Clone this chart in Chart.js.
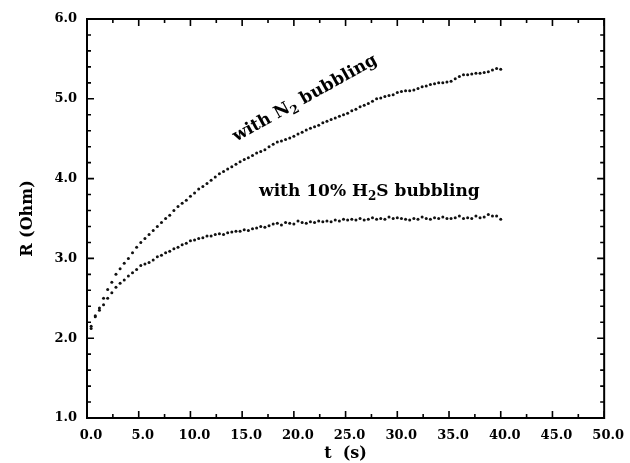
<!DOCTYPE html>
<html>
<head>
<meta charset="utf-8">
<script src="https://cdn.jsdelivr.net/npm/chart.js@4.4.1/dist/chart.umd.min.js"></script>
<style>
  body { margin: 0; background: #fff; }
  #wrap { width: 630px; height: 463px; position: relative; }
</style>
</head>
<body>
<div id="wrap"><canvas id="resist-chart"></canvas></div>
<script>
// time (s) of each sample
const times = [
  0.4, 0.8, 1.2, 1.6, 2.0, 2.4, 2.8, 3.2, 3.6, 4.0,
  4.4, 4.8, 5.2, 5.6, 6.0, 6.4, 6.8, 7.2, 7.6, 8.0,
  8.4, 8.8, 9.2, 9.6, 10.0, 10.4, 10.8, 11.2, 11.6, 12.0,
  12.4, 12.8, 13.2, 13.6, 14.0, 14.4, 14.8, 15.2, 15.6, 16.0,
  16.4, 16.8, 17.2, 17.6, 18.0, 18.4, 18.8, 19.2, 19.6, 20.0,
  20.4, 20.8, 21.2, 21.6, 22.0, 22.4, 22.8, 23.2, 23.6, 24.0,
  24.4, 24.8, 25.2, 25.6, 26.0, 26.4, 26.8, 27.2, 27.6, 28.0,
  28.4, 28.8, 29.2, 29.6, 30.0, 30.4, 30.8, 31.2, 31.6, 32.0,
  32.4, 32.8, 33.2, 33.6, 34.0, 34.4, 34.8, 35.2, 35.6, 36.0,
  36.4, 36.8, 37.2, 37.6, 38.0, 38.4, 38.8, 39.2, 39.6, 40.0
];

// R (Ohm) with N2 bubbling
const rN2 = [
  2.15, 2.27, 2.38, 2.50, 2.61, 2.70, 2.80, 2.87, 2.94, 3.00,
  3.07, 3.14, 3.20, 3.25, 3.30, 3.35, 3.40, 3.45, 3.50, 3.54,
  3.60, 3.65, 3.69, 3.73, 3.78, 3.82, 3.87, 3.90, 3.94, 3.98,
  4.02, 4.06, 4.09, 4.12, 4.15, 4.18, 4.21, 4.24, 4.26, 4.29,
  4.32, 4.34, 4.36, 4.40, 4.43, 4.46, 4.47, 4.49, 4.51, 4.53,
  4.56, 4.58, 4.61, 4.63, 4.65, 4.67, 4.70, 4.72, 4.74, 4.76,
  4.78, 4.80, 4.82, 4.85, 4.87, 4.90, 4.92, 4.94, 4.97, 5.00,
  5.01, 5.03, 5.04, 5.05, 5.08, 5.09, 5.10, 5.10, 5.11, 5.13,
  5.15, 5.16, 5.18, 5.19, 5.20, 5.20, 5.21, 5.22, 5.25, 5.28,
  5.30, 5.30, 5.31, 5.32, 5.32, 5.33, 5.34, 5.36, 5.38, 5.37
];

// R (Ohm) with 10% H2S bubbling
const rH2S = [
  2.12, 2.28, 2.35, 2.42, 2.50, 2.57, 2.64, 2.69, 2.73, 2.78,
  2.82, 2.86, 2.91, 2.93, 2.95, 2.98, 3.02, 3.04, 3.07, 3.09,
  3.12, 3.14, 3.17, 3.19, 3.22, 3.23, 3.25, 3.26, 3.28, 3.28,
  3.30, 3.31, 3.30, 3.32, 3.33, 3.34, 3.34, 3.36, 3.35, 3.37,
  3.38, 3.40, 3.39, 3.41, 3.43, 3.44, 3.42, 3.45, 3.44, 3.43,
  3.47, 3.45, 3.44, 3.46, 3.45, 3.47, 3.46, 3.47, 3.46, 3.48,
  3.47, 3.49, 3.48, 3.49, 3.48, 3.50, 3.48, 3.49, 3.51, 3.49,
  3.50, 3.49, 3.52, 3.50, 3.51, 3.50, 3.49, 3.48, 3.50, 3.49,
  3.52, 3.50, 3.49, 3.51, 3.50, 3.52, 3.50, 3.50, 3.51, 3.53,
  3.50, 3.51, 3.50, 3.53, 3.51, 3.52, 3.55, 3.53, 3.53, 3.49
];

// axis ticks
const xMajor = [0, 5, 10, 15, 20, 25, 30, 35, 40, 45, 50];
const xMinor = [2.5, 7.5, 12.5, 17.5, 22.5, 27.5, 32.5, 37.5, 42.5, 47.5];
const yMajor = [1, 2, 3, 4, 5, 6];
const yMinor = [1.2, 1.4, 1.6, 1.8, 2.2, 2.4, 2.6, 2.8, 3.2, 3.4, 3.6, 3.8,
                4.2, 4.4, 4.6, 4.8, 5.2, 5.4, 5.6, 5.8];

// curve labels, anchored in data units
const labelN2 = { t: 21.0, r: 5.02, angle: -29, parts: [['with N', false], ['2', true], [' bubbling', false]] };
const labelH2S = { t: 27.3, r: 3.86, angle: 0, parts: [['with 10% H', false], ['2', true], ['S bubbling', false]] };

const FONT = '"DejaVu Serif", "Liberation Serif", serif';

function toPoints(rs) {
    return times.map((t, i) => ({ x: t, y: rs[i] }));
}

// box round the plot with inward ticks on all four sides
const framePlugin = {
    id: 'frame',
    afterDraw(chart) {
        const { ctx, chartArea: a, scales: { x, y } } = chart;
        ctx.save();
        ctx.strokeStyle = '#000';
        ctx.lineWidth = 2;
        ctx.strokeRect(a.left, a.top, a.right - a.left, a.bottom - a.top);

        ctx.lineWidth = 1.6;
        ctx.beginPath();
        const xTick = (v, len) => {
            const px = x.getPixelForValue(v);
            ctx.moveTo(px, a.bottom); ctx.lineTo(px, a.bottom - len);
            ctx.moveTo(px, a.top); ctx.lineTo(px, a.top + len);
        };
        const yTick = (v, len) => {
            const py = y.getPixelForValue(v);
            ctx.moveTo(a.left, py); ctx.lineTo(a.left + len, py);
            ctx.moveTo(a.right, py); ctx.lineTo(a.right - len, py);
        };
        xMajor.forEach(v => xTick(v, 7));
        xMinor.forEach(v => xTick(v, 4));
        yMajor.forEach(v => yTick(v, 7));
        yMinor.forEach(v => yTick(v, 4));
        ctx.stroke();
        ctx.restore();
    }
};

// text with subscripts
function drawParts(ctx, parts, size) {
    const big = `bold ${size}px ${FONT}`;
    const small = `bold ${Math.round(size * 0.7)}px ${FONT}`;
    let total = 0;
    parts.forEach(([txt, sub]) => {
        ctx.font = sub ? small : big;
        total += ctx.measureText(txt).width;
    });
    let cx = -total / 2;
    parts.forEach(([txt, sub]) => {
        ctx.font = sub ? small : big;
        ctx.fillText(txt, cx, sub ? size * 0.6 : size * 0.35);
        cx += ctx.measureText(txt).width;
    });
}

const labelPlugin = {
    id: 'curveLabels',
    afterDraw(chart) {
        const { ctx, scales: { x, y } } = chart;
        [labelN2, labelH2S].forEach(lb => {
            ctx.save();
            ctx.fillStyle = '#000';
            ctx.textBaseline = 'alphabetic';
            ctx.translate(x.getPixelForValue(lb.t), y.getPixelForValue(lb.r));
            ctx.rotate(lb.angle * Math.PI / 180);
            drawParts(ctx, lb.parts, 17);
            ctx.restore();
        });
    }
};

const dotStyle = {
    showLine: false,
    pointRadius: 1.5,
    pointBorderWidth: 0,
    pointBackgroundColor: '#111',
    pointHoverRadius: 1.5
};

const ctx = document.getElementById('resist-chart').getContext('2d');
new Chart(ctx, {
    type: 'scatter',
    data: {
        datasets: [
            Object.assign({ label: 'with N2 bubbling', data: toPoints(rN2) }, dotStyle),
            Object.assign({ label: 'with 10% H2S bubbling', data: toPoints(rH2S) }, dotStyle)
        ]
    },
    options: {
        responsive: true,
        maintainAspectRatio: false,
        animation: false,
        layout: { padding: { top: 19, right: 21, left: 0, bottom: 0 } },
        plugins: {
            legend: { display: false },
            tooltip: { enabled: false }
        },
        scales: {
            x: {
                type: 'linear',
                min: 0,
                max: 50,
                afterFit: s => { s.height = 45; },
                grid: { display: false, drawTicks: false },
                border: { display: false },
                ticks: {
                    stepSize: 5,
                    autoSkip: false,
                    maxRotation: 0,
                    padding: 10,
                    labelOffset: 4,
                    color: '#000',
                    font: { family: FONT, size: 13, weight: 'bold' },
                    callback: v => v.toFixed(1)
                },
                title: {
                    display: true,
                    text: 't  (s)',
                    color: '#000',
                    padding: { top: 0, bottom: 0 },
                    font: { family: FONT, size: 16, weight: 'bold' }
                }
            },
            y: {
                type: 'linear',
                min: 1,
                max: 6,
                afterFit: s => { s.width = 87; },
                grid: { display: false, drawTicks: false },
                border: { display: false },
                ticks: {
                    stepSize: 1,
                    padding: 10,
                    color: '#000',
                    font: { family: FONT, size: 13, weight: 'bold' },
                    callback: v => v.toFixed(1)
                },
                title: {
                    display: true,
                    text: 'R (Ohm)',
                    color: '#000',
                    padding: { top: 18, bottom: 0 },
                    font: { family: FONT, size: 16, weight: 'bold' }
                }
            }
        }
    },
    plugins: [framePlugin, labelPlugin]
});
</script>
</body>
</html>
